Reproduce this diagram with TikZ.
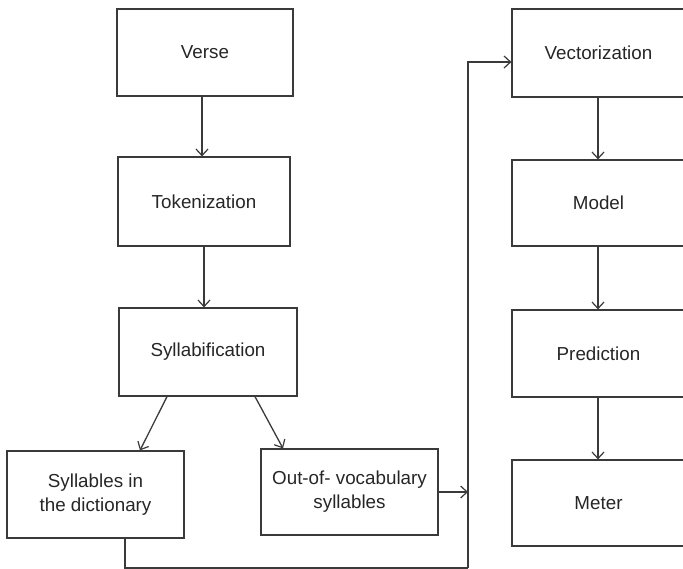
\documentclass[tikz,border=0pt]{standalone}
\usepackage{fontspec}
\setmainfont{Liberation Sans}
\usetikzlibrary{arrows.meta,calc}
\definecolor{ln}{HTML}{3A3A3A}
\definecolor{tx}{HTML}{262626}
\begin{document}
\begin{tikzpicture}[x=1pt,y=-1pt,
  box/.style={draw=ln,line width=1.2pt,minimum width=#1,inner sep=0pt,align=center,text=tx,font=\fontsize{18.8}{24}\selectfont},
  box/.default=176pt,
  conn/.style={draw=ln,line width=1.3pt},
  arr/.style={conn,-{Straight Barb[length=6.5pt,width=12pt,line width=1.2pt]}}]
\useasboundingbox (0,0) rectangle (683,568);
\node[box=176pt,minimum height=87pt] (verse) at (205,52.5) {Verse};
\node[box=172pt,minimum height=89pt] (tok) at (204,201.5) {Tokenization};
\node[box=178pt,minimum height=88pt] (syl) at (208,352) {Syllabification};
\node[box=177pt,minimum height=87pt] (dict) at (95.5,494.5) {Syllables in\\the dictionary};
\node[box=177pt,minimum height=86pt] (oov) at (349.5,492) {Out-of- vocabulary\\syllables};
\node[box=173pt,minimum height=88pt] (vec) at (598.5,53) {Vectorization};
\node[box=173pt,minimum height=86pt] (model) at (598.5,203) {Model};
\node[box=173pt,minimum height=87pt] (pred) at (598.5,353.5) {Prediction};
\node[box=173pt,minimum height=86pt] (meter) at (598.5,503) {Meter};
\coordinate (trunkb) at (468,568);
\coordinate (trunkt) at (468,62);
\coordinate (dictb) at (125,568);
\draw[arr] ([xshift=-3pt]verse.south) -- ([xshift=-3pt]verse.south |- tok.north);
\draw[arr] (tok.south) -- (tok.south |- syl.north);
\draw[arr] ([xshift=-41pt]syl.south) -- ([xshift=44.5pt]dict.north);
\draw[arr] ([xshift=47pt]syl.south) -- ([xshift=-66.5pt]oov.north);
\draw[arr] (oov.east) -- (oov.east -| trunkt);
\draw[conn] (dict.south -| dictb) -- (dictb) -- (trunkb);
\draw[arr] (trunkb) -- (trunkt) -- (trunkt -| vec.west);
\draw[arr] ([xshift=-0.5pt]vec.south) -- ([xshift=-0.5pt]model.north);
\draw[arr] ([xshift=-0.5pt]model.south) -- ([xshift=-0.5pt]pred.north);
\draw[arr] ([xshift=-0.5pt]pred.south) -- ([xshift=-0.5pt]meter.north);
\end{tikzpicture}
\end{document}
